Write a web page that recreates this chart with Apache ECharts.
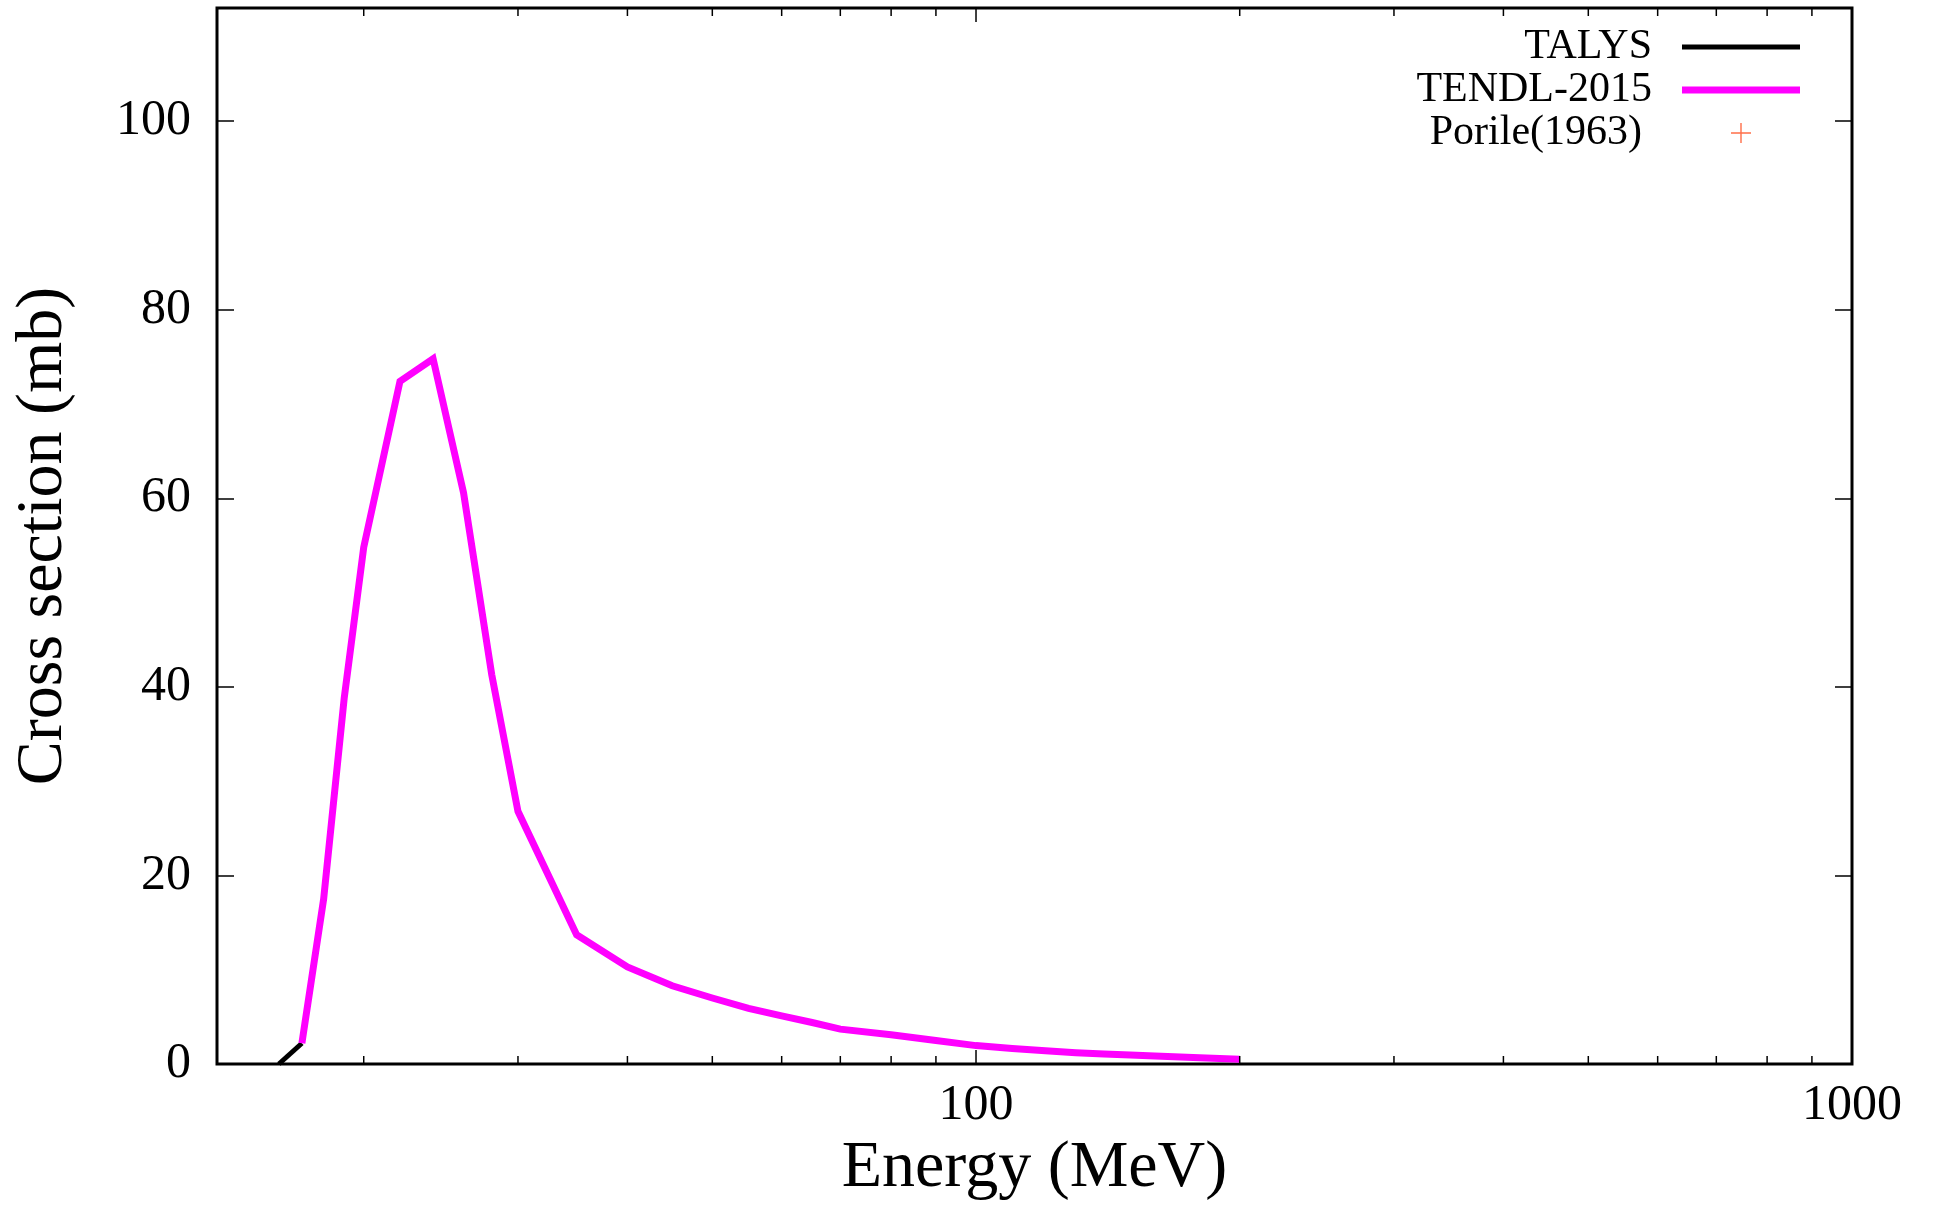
<!DOCTYPE html>
<html>
<head>
<meta charset="utf-8">
<script src="https://cdn.jsdelivr.net/npm/echarts@6/dist/echarts.min.js"></script>
<style>
html,body{margin:0;padding:0;background:#fff;}
#chart{width:1935px;height:1210px;}
</style>
</head>
<body>
<div id="chart"></div>
<script>
// ---- data ----
const tendlEnergy = [17,18,19,20,22,24,26,28,30,35,40,45,50,55,60,65,70,80,90,100,110,120,130,140,150,160,180,200];
const tendlXs     = [2.2,17.5,38.8,54.8,72.4,74.8,60.6,41.3,26.8,13.7,10.3,8.3,7.0,5.9,5.1,4.4,3.7,3.1,2.5,1.95,1.65,1.4,1.2,1.05,0.95,0.85,0.65,0.5];
const talysEnergy = [16,17];
const talysXs     = [0,2.2];
const porileData  = [];
const xMajorTicks = [100,1000];
const xMinorTicks = [20,30,40,50,60,70,80,90,200,300,400,500,600,700,800,900];
const yTicks      = [0,20,40,60,80,100];

const X_MIN = 13.6, X_MAX = 1000, Y_MIN = 0, Y_MAX = 112;
const serif = '"Liberation Serif","DejaVu Serif",serif';

const pair = (xs, ys) => xs.map((x, i) => [x, ys[i]]);
const tickData = xMajorTicks.map(v => [v, 0, 1]).concat(xMinorTicks.map(v => [v, 0, 0]));

const chart = echarts.init(document.getElementById('chart'), null, {renderer: 'canvas'});
const yLabelFmt = v => (yTicks.indexOf(v) >= 0 ? String(v) : '');
chart.setOption({
  backgroundColor: '#fff',
  animation: false,
  grid: {left: 217, right: 83, top: 8, bottom: 146, show: true, borderColor: '#000', borderWidth: 3, backgroundColor: 'transparent'},
  legend: {
    orient: 'vertical', align: 'right', right: 135, top: 26, padding: 0,
    itemWidth: 118, itemHeight: 20, itemGap: 1, selectedMode: false,
    textStyle: {fontFamily: serif, fontSize: 42, lineHeight: 42, color: '#000', padding: [0, 25, 0, 0]},
    data: [
      {name: 'TALYS', icon: 'path://M0,0h118v5h-118z'},
      {name: 'TENDL-2015', icon: 'path://M0,0h118v7h-118z'},
      {name: 'Porile(1963)', icon: 'path://M0,9.3h20v1.4h-20zM9.3,0h1.4v20h-1.4z',
       textStyle: {fontFamily: serif, fontSize: 42, lineHeight: 42, color: '#000', padding: [0, 35, 0, 0]}}
    ]
  },
  xAxis: {
    type: 'log', logBase: 10, min: X_MIN, max: X_MAX,
    name: 'Energy (MeV)', nameLocation: 'middle', nameGap: 72,
    nameTextStyle: {fontFamily: serif, fontSize: 66, color: '#000'},
    axisLine: {show: false}, axisTick: {show: false}, splitLine: {show: false}, minorTick: {show: false},
    axisLabel: {
      fontFamily: serif, fontSize: 50, color: '#000', margin: 17, showMinLabel: false, showMaxLabel: true,
      formatter: v => { const l = Math.log10(v); return Math.abs(l - Math.round(l)) < 1e-6 ? String(Math.round(v)) : ''; }
    }
  },
  yAxis: [{
    type: 'value', min: Y_MIN, max: Y_MAX, interval: 20, position: 'left',
    name: 'Cross section (mb)', nameLocation: 'middle', nameGap: 140,
    nameTextStyle: {fontFamily: serif, fontSize: 66, color: '#000'},
    axisLine: {show: false}, splitLine: {show: false},
    axisTick: {show: true, inside: true, length: 17, lineStyle: {color: '#000', width: 1.5}},
    axisLabel: {fontFamily: serif, fontSize: 50, color: '#000', margin: 26, showMaxLabel: false, formatter: yLabelFmt}
  }, {
    type: 'value', min: Y_MIN, max: Y_MAX, interval: 20, position: 'right',
    axisLine: {show: false}, splitLine: {show: false},
    axisTick: {show: true, inside: true, length: 17, lineStyle: {color: '#000', width: 1.5}},
    axisLabel: {show: false}
  }],
  series: [
    {
      name: 'xticks', type: 'custom', coordinateSystem: 'cartesian2d', silent: true, z: 5,
      encode: {x: 0, y: 1}, data: tickData,
      renderItem: (params, api) => {
        const x = api.coord([api.value(0), Y_MIN])[0];
        const len = api.value(2) ? 14 : 8;
        const cs = params.coordSys;
        const yb = cs.y + cs.height, yt = cs.y;
        return {type: 'group', children: [
          {type: 'line', shape: {x1: x, y1: yb, x2: x, y2: yb - len}, style: {stroke: '#000', lineWidth: 1.5}},
          {type: 'line', shape: {x1: x, y1: yt, x2: x, y2: yt + len}, style: {stroke: '#000', lineWidth: 1.5}}
        ]};
      }
    },
    {
      name: 'TALYS', type: 'line', color: '#000000', data: pair(talysEnergy, talysXs),
      symbol: 'none', lineStyle: {width: 5, color: '#000000'}, z: 2
    },
    {
      name: 'TENDL-2015', type: 'line', color: '#ff00ff', data: pair(tendlEnergy, tendlXs),
      symbol: 'none', lineStyle: {width: 7, color: '#ff00ff', join: 'miter'}, z: 3
    },
    {
      name: 'Porile(1963)', type: 'scatter', color: '#ff4a1a', data: porileData,
      symbol: 'path://M0,9.3h20v1.4h-20zM9.3,0h1.4v20h-1.4z', symbolSize: 20, z: 4
    }
  ]
});
</script>
</body>
</html>
